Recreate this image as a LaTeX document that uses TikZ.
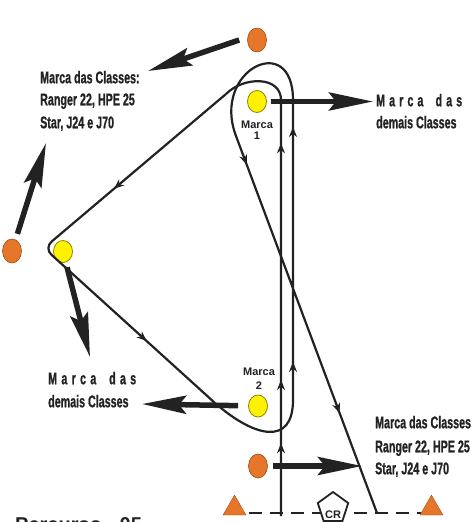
\documentclass[tikz,border=0pt]{standalone}
\usepackage{fontspec}
\setmainfont{Liberation Sans}
\newfontfamily\narrowfont[FakeStretch=0.63,FakeBold=0.8]{Liberation Sans}
\usetikzlibrary{arrows.meta,calc,shapes.geometric,positioning}

\definecolor{buoyorange}{HTML}{E5762A}
\definecolor{buoyedge}{HTML}{9C4E16}
\definecolor{markyellow}{HTML}{FFF200}
\definecolor{markedge}{HTML}{8A8400}
\definecolor{inkgray}{HTML}{222222}

\tikzset{
  course/.style={line width=2.2pt, draw=inkgray},
  tip/.style={line width=2.2pt, draw=inkgray, -{Stealth[length=10pt,width=8pt]}},
  bigarrow/.style={line width=5.5pt, draw=inkgray, -{Stealth[length=44pt,width=18pt,inset=7pt]}},
  orangebuoy/.style={ellipse, draw=buoyedge, fill=buoyorange, line width=0.6pt, minimum width=19pt, minimum height=24pt, inner sep=0pt},
  yellowmark/.style={ellipse, draw=markedge, fill=markyellow, line width=0.8pt, minimum width=19pt, minimum height=22pt, inner sep=0pt},
  cone/.style={regular polygon, regular polygon sides=3, draw=buoyedge, fill=buoyorange, line width=0.4pt, minimum size=26.5pt, inner sep=0pt},
  crbox/.style={regular polygon, regular polygon sides=5, draw=inkgray, fill=white, line width=1.8pt, minimum size=32pt, inner sep=0pt},
  bigtext/.style={font=\narrowfont\bfseries\fontsize{17}{20}\selectfont, text=inkgray, anchor=base west, inner sep=0pt},
  marklbl/.style={font=\bfseries\fontsize{11}{11.5}\selectfont, text=inkgray, align=center, anchor=north, inner sep=0pt},
  startline/.style={line width=2.4pt, draw=inkgray, dash pattern=on 13pt off 8pt},
}

\begin{document}
\begin{tikzpicture}[x=1pt, y=-1pt]

    \useasboundingbox (0,0) rectangle (474,522);
    \clip (0,0) rectangle (474,522);

    % Buoys and marks
    \node[orangebuoy] (otop) at (257,40) {};
    \node[orangebuoy] (oleft) at (12,251) {};
    \node[orangebuoy] (obottom) at (258,466) {};
    \node[yellowmark] (m1) at (257,101.5) {};
    \node[yellowmark] (mleft) at (63,251.5) {};
    \node[yellowmark] (m2) at (258,406) {};

    \node[marklbl] (m1lbl) at (257,120.5) {Marca\\1};
    \node[marklbl] (m2lbl) at (259,367.5) {Marca\\[3pt]2};

    % Start line
    \coordinate (sl0) at (249,513);
    \coordinate (sl1) at (421,513);
    \draw[startline] (sl0) -- (sl1);
    \node[cone] (pinl) at (234.5,508.4) {};
    \node[cone] (pinr) at (431.5,508.4) {};
    \node[crbox, label={[font=\bfseries\fontsize{11}{11}\selectfont, text=inkgray, yshift=-7pt]center:CR}] (cr) at (333,508) {};

    % Course
    \coordinate (s0) at (281,516);
    \coordinate (s1) at (281,100);
    \coordinate (s2) at (226,94);
    \coordinate (s3) at (44,248);
    \coordinate (s4) at (215,403);
    \coordinate (s5) at (293,400);
    \coordinate (s6) at (293,100);
    \coordinate (s7) at (236,136);
    \coordinate (fin) at (377,513);

    \draw[course] (s0) -- (s1) .. controls (281,76) and (244,76) .. (s2);
    \draw[course, rounded corners=10pt] (s2) -- (s3) -- (s4);
    \draw[course] (s4) .. controls (255,438) and (293,446) .. (s5) -- (s6)
        .. controls (293,30) and (211,70) .. (s7) -- (fin);

    % Direction arrows on the course
    \draw[tip] ($(s0)!0.163!(s1)$) -- ($(s0)!0.175!(s1)$);
    \draw[tip] ($(s0)!0.315!(s1)$) -- ($(s0)!0.327!(s1)$);
    \draw[tip] ($(s0)!0.884!(s1)$) -- ($(s0)!0.896!(s1)$);
    \draw[tip] ($(s2)!0.60!(s3)$) -- ($(s2)!0.615!(s3)$);
    \draw[tip] ($(s3)!0.586!(s4)$) -- ($(s3)!0.60!(s4)$);
    \draw[tip] ($(s5)!0.113!(s6)$) -- ($(s5)!0.127!(s6)$);
    \draw[tip] ($(s5)!0.897!(s6)$) -- ($(s5)!0.91!(s6)$);
    \draw[tip] ($(s7)!0.064!(fin)$) -- ($(s7)!0.076!(fin)$);
    \draw[tip] ($(s7)!0.723!(fin)$) -- ($(s7)!0.735!(fin)$);

    % Pointers to the labels
    \coordinate (t1) at (148,71);
    \coordinate (t2) at (46,143);
    \coordinate (t3) at (90,357);
    \coordinate (t4) at (373,101.5);
    \coordinate (t5) at (142,404);
    \coordinate (t6) at (362,466);

    \draw[bigarrow] ([xshift=-8pt]otop.west) -- (t1);
    \draw[bigarrow, shorten <=6pt] (oleft) -- (t2);
    \draw[bigarrow, shorten <=5pt] (mleft) -- (t3);
    \draw[bigarrow, shorten <=4pt] (m1) -- (t4);
    \draw[bigarrow, shorten <=10pt] (m2) -- (t5);
    \draw[bigarrow, shorten <=5pt] (obottom) -- (t6);

    % Labels
    \node[bigtext] (la1) at (40,83.3) {Marca das Classes:};
    \node[bigtext] (la2) at (40,105.3) {Ranger 22, HPE 25};
    \node[bigtext] (la3) at (40,128.3) {Star, J24 e J70};

    \node[bigtext] (lb1) at (376,106.3) {\makebox[86pt][s]{M\hfill a\hfill r\hfill c\hfill a\hfill\hfill\hfill d\hfill a\hfill s}};
    \node[bigtext] (lb2) at (376,128.3) {demais Classes};

    \node[bigtext] (lc1) at (48,384.3) {\makebox[88pt][s]{M\hfill a\hfill r\hfill c\hfill a\hfill\hfill\hfill d\hfill a\hfill s}};
    \node[bigtext] (lc2) at (48,407.3) {demais Classes};

    \node[bigtext] (ld1) at (375,428.3) {Marca das Classes};
    \node[bigtext] (ld2) at (375,452.3) {Ranger 22, HPE 25};
    \node[bigtext] (ld3) at (375,474.3) {Star, J24 e J70};

    \node[anchor=base west, inner sep=0pt, text=inkgray, font=\bfseries\fontsize{20}{20}\selectfont] (title) at (15,531) {Percurso - 05};

\end{tikzpicture}
\end{document}
